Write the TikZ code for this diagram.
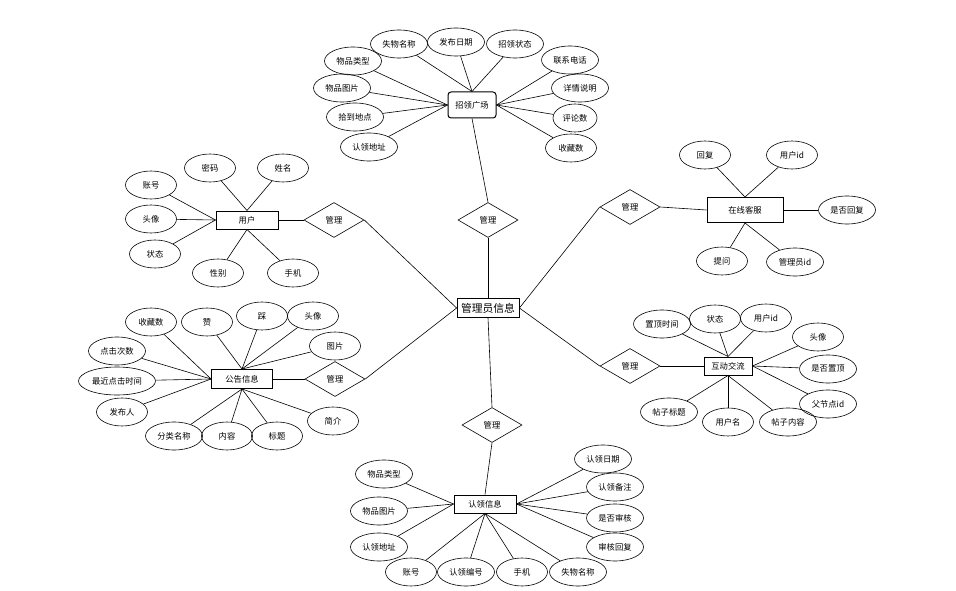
\documentclass[tikz,border=0pt]{standalone}
\usepackage{fontspec}
\setmainfont{Noto Sans CJK SC}
\usetikzlibrary{shapes.geometric}

\begin{document}
\begin{tikzpicture}[x=1pt, y=-1pt, line width=0.6pt,
  every node/.style={font=\fontsize{8.3}{10}\selectfont},
  attr/.style={draw, ellipse, minimum width=51pt, minimum height=28pt, inner sep=0pt},
  wide/.style={attr, minimum width=57pt},
  entity/.style={draw, line width=1pt, minimum width=62pt, minimum height=18pt, inner sep=0pt},
  rel/.style={draw, diamond, minimum width=60pt, minimum height=35pt, inner sep=0pt}]
  \useasboundingbox (0,0) rectangle (956,591);

  % Centre entity
  \node[entity, font=\fontsize{10.8}{12}\selectfont, line width=0.8pt, minimum height=19pt] (admin) at (488,308) {管理员信息};

  % Relationships
  \node[rel] (gl1) at (488,220) {管理};
  \node[rel] (gl2) at (334,220) {管理};
  \node[rel] (gl3) at (630,207) {管理};
  \node[rel] (gl4) at (630,366) {管理};
  \node[rel] (gl5) at (335,379) {管理};
  \node[rel] (gl6) at (492,425) {管理};

  % Entities
  \node[entity, rounded corners=3pt, minimum width=48pt, minimum height=26pt] (zlgc) at (472,105) {招领广场};
  \node[entity] (yh) at (247,220) {用户};
  \node[entity, minimum width=76pt, minimum height=25pt] (zxkf) at (745,210) {在线客服};
  \node[entity, minimum width=48pt] (hdjl) at (728,366) {互动交流};
  \node[entity, minimum width=61pt, minimum height=19pt] (ggxx) at (242,379) {公告信息};
  \node[entity] (rlxx) at (485,504) {认领信息};

  % Attributes of 招领广场
  \node[wide] (z1) at (399,44) {失物名称};
  \node[wide] (z2) at (456,42) {发布日期};
  \node[wide] (z3) at (515,44) {招领状态};
  \node[wide] (z4) at (353,61) {物品类型};
  \node[wide] (z5) at (342,88) {物品图片};
  \node[wide] (z6) at (355,117) {拾到地点};
  \node[wide] (z7) at (369,147) {认领地址};
  \node[wide] (z8) at (570,60) {联系电话};
  \node[wide] (z9) at (580,88) {详情说明};
  \node[attr, minimum width=44pt] (z10) at (575,118) {评论数};
  \node[attr] (z11) at (571,148) {收藏数};

  % Attributes of 用户
  \node[attr] (u1) at (210,168) {密码};
  \node[attr] (u2) at (283,168) {姓名};
  \node[attr] (u3) at (151,185) {账号};
  \node[attr] (u4) at (151,219) {头像};
  \node[attr] (u5) at (155,254) {状态};
  \node[attr] (u6) at (218,273) {性别};
  \node[attr] (u7) at (293,273) {手机};

  % Attributes of 在线客服
  \node[attr] (k1) at (705,155) {回复};
  \node[attr] (k2) at (792,155) {用户id};
  \node[wide] (k3) at (847,210) {是否回复};
  \node[attr] (k4) at (722,261) {提问};
  \node[wide] (k5) at (795,262) {管理员id};

  % Attributes of 互动交流
  \node[wide] (h1) at (662,324) {置顶时间};
  \node[attr] (h2) at (715,319) {状态};
  \node[attr] (h3) at (766,318) {用户id};
  \node[attr] (h4) at (818,337) {头像};
  \node[wide] (h5) at (828,369) {是否置顶};
  \node[wide] (h6) at (828,404) {父节点id};
  \node[wide] (h7) at (669,412) {帖子标题};
  \node[attr] (h8) at (728,422) {用户名};
  \node[wide] (h9) at (788,422) {帖子内容};

  % Attributes of 公告信息
  \node[attr] (g1) at (151,322) {收藏数};
  \node[attr] (g2) at (207,322) {赞};
  \node[attr] (g3) at (262,316) {踩};
  \node[attr] (g4) at (313,316) {头像};
  \node[attr] (g5) at (335,346) {图片};
  \node[wide] (g6) at (117,351) {点击次数};
  \node[attr, minimum width=77pt] (g7) at (117,381) {最近点击时间};
  \node[attr] (g8) at (122,412) {发布人};
  \node[wide] (g9) at (174,436) {分类名称};
  \node[attr] (g10) at (227,436) {内容};
  \node[attr] (g11) at (277,436) {标题};
  \node[attr] (g12) at (333,421) {简介};

  % Attributes of 认领信息
  \node[wide] (r1) at (384,474) {物品类型};
  \node[wide] (r2) at (379,511) {物品图片};
  \node[wide] (r3) at (379,547) {认领地址};
  \node[attr] (r4) at (411,572) {账号};
  \node[wide] (r5) at (466,572) {认领编号};
  \node[attr] (r6) at (522,572) {手机};
  \node[wide] (r7) at (578,572) {失物名称};
  \node[wide] (r8) at (603,459) {认领日期};
  \node[wide] (r9) at (615,487) {认领备注};
  \node[wide] (r10) at (615,518) {是否审核};
  \node[wide] (r11) at (615,547) {审核回复};

  % Relationship links
  \draw (admin.north) -- (gl1.south);
  \draw (gl1.north) -- (zlgc.south);
  \draw (yh.east) -- (gl2.west);
  \draw (gl2.east) -- (admin.west);
  \draw (admin.east) -- (gl3.west);
  \draw (gl3.east) -- (zxkf.west);
  \draw (admin.east) -- (gl4.west);
  \draw (gl4.east) -- (hdjl.west);
  \draw (ggxx.east) -- (gl5.west);
  \draw (gl5.east) -- (admin.west);
  \draw (admin.south) -- (gl6.north);
  \draw (gl6.south) -- (rlxx.north);

  % Attribute links
  \draw (z1) -- (zlgc.north);
  \draw (z2) -- (zlgc.north);
  \draw (z3) -- (zlgc.north);
  \draw (z4) -- (zlgc.west);
  \draw (z5) -- (zlgc.west);
  \draw (z6) -- (zlgc.west);
  \draw (z7) -- (zlgc.west);
  \draw (z8) -- (zlgc.east);
  \draw (z9) -- (zlgc.east);
  \draw (z10) -- (zlgc.east);
  \draw (z11) -- (zlgc.east);

  \draw (u1) -- (yh.north);
  \draw (u2) -- (yh.north);
  \draw (u3) -- (yh.west);
  \draw (u4) -- (yh.west);
  \draw (u5) -- (yh.west);
  \draw (u6) -- (yh.south);
  \draw (u7) -- (yh.south);

  \draw (k1) -- (zxkf.north);
  \draw (k2) -- (zxkf.north);
  \draw (k3) -- (zxkf.east);
  \draw (k4) -- (zxkf.south);
  \draw (k5) -- (zxkf.south);

  \draw (h1) -- (hdjl.north);
  \draw (h2) -- (hdjl.north);
  \draw (h3) -- (hdjl.north);
  \draw (h4) -- (hdjl.east);
  \draw (h5) -- (hdjl.east);
  \draw (h6) -- (hdjl.east);
  \draw (h7) -- (hdjl.south);
  \draw (h8) -- (hdjl.south);
  \draw (h9) -- (hdjl.south);

  \draw (g1) -- (ggxx.west);
  \draw (g2) -- (ggxx.north);
  \draw (g3) -- (ggxx.north);
  \draw (g4) -- (ggxx.north);
  \draw (g5) -- (ggxx.north);
  \draw (g6) -- (ggxx.west);
  \draw (g7) -- (ggxx.west);
  \draw (g8) -- (ggxx.west);
  \draw (g9) -- (ggxx.south);
  \draw (g10) -- (ggxx.south);
  \draw (g11) -- (ggxx.south);
  \draw (g12) -- (ggxx.south);

  \draw (r1) -- (rlxx.west);
  \draw (r2) -- (rlxx.west);
  \draw (r3) -- (rlxx.west);
  \draw (r4) -- (rlxx.south);
  \draw (r5) -- (rlxx.south);
  \draw (r6) -- (rlxx.south);
  \draw (r7) -- (rlxx.south);
  \draw (r8) -- (rlxx.east);
  \draw (r9) -- (rlxx.east);
  \draw (r10) -- (rlxx.east);
  \draw (r11) -- (rlxx.east);
\end{tikzpicture}
\end{document}
